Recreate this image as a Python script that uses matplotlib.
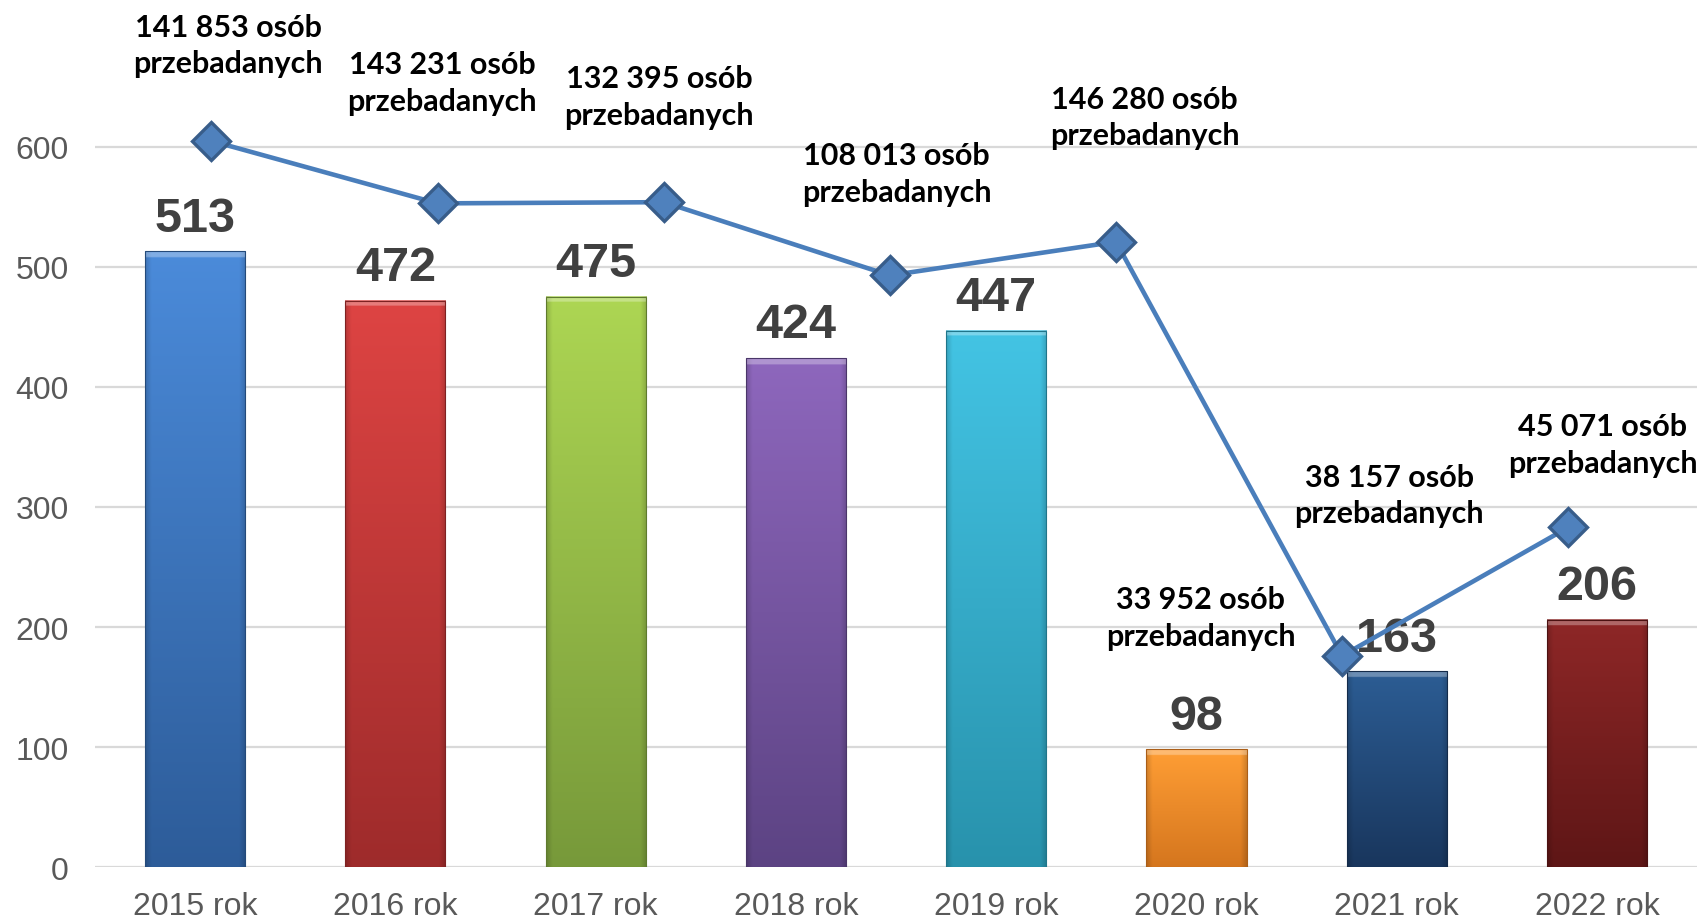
import numpy as np
import matplotlib
matplotlib.use("Agg")
import matplotlib.pyplot as plt
from matplotlib.colors import to_rgb

# ---------------- data ----------------
categories = ["2015 rok", "2016 rok", "2017 rok", "2018 rok",
              "2019 rok", "2020 rok", "2021 rok", "2022 rok"]
bar_values = [513, 472, 475, 424, 447, 98, 163, 206]

# line series (plotted on a hidden secondary scale, 7 points)
line_values = [605, 553, 554, 493, 521, 176, 283]

people_labels = ["141 853 osób\nprzebadanych", "143 231 osób\nprzebadanych",
                 "132 395 osób\nprzebadanych", "108 013 osób\nprzebadanych",
                 "146 280 osób\nprzebadanych", "33 952 osób\nprzebadanych",
                 "38 157 osób\nprzebadanych", "45 071 osób\nprzebadanych"]

y_ticks = [0, 100, 200, 300, 400, 500, 600]

# ---------------- styles ----------------
bar_top_colors = ["#4B8BDA", "#DE4443", "#ADD653", "#8E67BD",
                  "#43C4E4", "#FF9E35", "#2C5D94", "#8E2727"]
bar_bottom_colors = ["#2D5C99", "#9E2B2B", "#77993A", "#5C4383",
                     "#2892AC", "#D5761E", "#19365D", "#5E1616"]
label_positions = [(0.165, 685), (1.234, 654), (2.318, 642), (3.503, 578),
                   (4.742, 625), (5.022, 208), (5.962, 310), (7.03, 352)]

YMAX = 723.3

fig = plt.figure(figsize=(17, 9.2), dpi=100)
ax = fig.add_axes([0.0559, 0.0565, 0.9424, 0.9435])
ax.set_xlim(-0.5, len(categories) - 0.5)
ax.set_ylim(0, YMAX)

x = np.arange(len(categories))
bars = ax.bar(x, bar_values, width=0.5, color="none", edgecolor="none", zorder=3)

# gradient fill for bars
for b, ctop, cbot in zip(bars, bar_top_colors, bar_bottom_colors):
    x0, y0 = b.get_x(), b.get_y()
    w, h = b.get_width(), b.get_height()
    ny, nx = 400, 80
    t = np.linspace(0, 1, ny)[:, None]           # 0 top -> 1 bottom
    top = np.array(to_rgb(ctop))
    bot = np.array(to_rgb(cbot))
    img = top[None, None, :] * (1 - t[..., None]) + bot[None, None, :] * t[..., None]
    img = np.repeat(img, nx, axis=1)
    # darker side edges
    u = np.linspace(0, 1, nx)
    edge = np.clip(np.minimum(u, 1 - u) / 0.06, 0, 1)
    shade = 0.84 + 0.16 * edge
    img = img * shade[None, :, None]
    # light bevel at top
    bevel_px = max(2, int(round(ny * 5.0 / h)))
    img[:bevel_px] = np.clip(img[:bevel_px] * 0.7 + 0.3, 0, 1)
    ax.imshow(img, extent=(x0, x0 + w, y0, y0 + h), aspect="auto",
              origin="upper", zorder=3, interpolation="bilinear")
    ax.add_patch(plt.Rectangle((x0, y0), w, h, fill=False,
                               edgecolor=bot * 0.8, lw=0.8, zorder=3.5))

ax.set_xlim(-0.5, len(categories) - 0.5)
ax.set_ylim(0, YMAX)

# bar value labels
for xi, v in zip(x, bar_values):
    ax.annotate(str(v), (xi, v), xytext=(0, 24), textcoords="offset points",
                ha="center", va="center", fontsize=35, fontweight="bold",
                color="#404040", family="Liberation Sans", zorder=6)

# axes styling
ax.set_yticks(y_ticks)
ax.set_xticks(x)
ax.set_xticklabels(categories)
ax.tick_params(axis="both", length=0, labelsize=23, labelcolor="#595959")
ax.tick_params(axis="y", pad=19)
ax.tick_params(axis="x", pad=17)
for lbl in ax.get_xticklabels() + ax.get_yticklabels():
    lbl.set_family("Liberation Sans")
ax.grid(axis="y", color="#D9D9D9", lw=1.6, zorder=0)
ax.set_axisbelow(True)
for s in ax.spines.values():
    s.set_visible(False)

# secondary (hidden) axes for the line series
ax2 = fig.add_axes(ax.get_position(), frameon=False)
ax2.set_xlim(-0.515, len(line_values) - 0.43)
ax2.set_ylim(0, YMAX)
ax2.plot(np.arange(len(line_values)), line_values, color="#4A7EBB", lw=3.3,
         marker="D", markersize=19, markerfacecolor="#4F81BD",
         markeredgecolor="#385D8A", markeredgewidth=2.4, zorder=5,
         solid_joinstyle="miter")
ax2.set_xticks([])
ax2.set_yticks([])

# people count labels
for (lx, ly), txt in zip(label_positions, people_labels):
    ax.text(lx, ly, txt, ha="center", va="center", fontsize=22,
            fontweight="bold", color="black", family="Lato",
            linespacing=1.38, zorder=7)

fig.savefig("out.png", dpi=100)
